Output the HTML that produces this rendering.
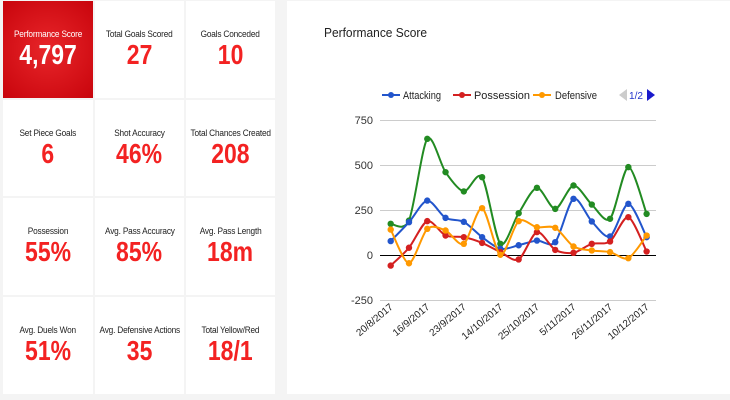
<!DOCTYPE html>
<html><head><meta charset="utf-8"><style>
body{margin:0;width:730px;height:400px;background:#f4f4f4;position:relative;overflow:hidden;font-family:"Liberation Sans Narrow","Liberation Sans",sans-serif}
.c{position:absolute;background:#fff;display:flex;flex-direction:column;align-items:center;justify-content:center;text-align:center}
.l{font-size:9px;color:#222;letter-spacing:-0.2px;transform:scaleX(0.92);white-space:nowrap}
.v{font-size:28px;font-weight:bold;color:#f32222;margin-top:1px;line-height:30px;transform:scaleX(0.82)}
.red{background:radial-gradient(circle at 50% 50%,#e8262a,#c8040c)}
.red .l,.red .v{color:#fff}
#p{position:absolute;left:287px;top:1px;width:443px;height:393px;background:#fff}
</style></head><body>
<div class="c red" style="left:3px;top:1px;width:90px;height:97px"><div class="l">Performance Score</div><div class="v">4,797</div></div>
<div class="c" style="left:95px;top:1px;width:89px;height:97px"><div class="l">Total Goals Scored</div><div class="v">27</div></div>
<div class="c" style="left:186px;top:1px;width:89px;height:97px"><div class="l">Goals Conceded</div><div class="v">10</div></div>
<div class="c" style="left:3px;top:100px;width:90px;height:96px"><div class="l">Set Piece Goals</div><div class="v">6</div></div>
<div class="c" style="left:95px;top:100px;width:89px;height:96px"><div class="l">Shot Accuracy</div><div class="v">46%</div></div>
<div class="c" style="left:186px;top:100px;width:89px;height:96px"><div class="l">Total Chances Created</div><div class="v">208</div></div>
<div class="c" style="left:3px;top:198px;width:90px;height:97px"><div class="l">Possession</div><div class="v">55%</div></div>
<div class="c" style="left:95px;top:198px;width:89px;height:97px"><div class="l">Avg. Pass Accuracy</div><div class="v">85%</div></div>
<div class="c" style="left:186px;top:198px;width:89px;height:97px"><div class="l">Avg. Pass Length</div><div class="v">18m</div></div>
<div class="c" style="left:3px;top:297px;width:90px;height:97px"><div class="l">Avg. Duels Won</div><div class="v">51%</div></div>
<div class="c" style="left:95px;top:297px;width:89px;height:97px"><div class="l">Avg. Defensive Actions</div><div class="v">35</div></div>
<div class="c" style="left:186px;top:297px;width:89px;height:97px"><div class="l">Total Yellow/Red</div><div class="v">18/1</div></div>
<div id="p"></div>
<svg id="s" width="730" height="400" style="position:absolute;left:0;top:0" font-family="Liberation Sans, sans-serif">
<text x="324" y="37" font-size="13" fill="#222" textLength="103" lengthAdjust="spacingAndGlyphs">Performance Score</text>
<g stroke="#ccc" stroke-width="1">
<line x1="380" x2="656" y1="120.5" y2="120.5"/><line x1="380" x2="656" y1="165.5" y2="165.5"/><line x1="380" x2="656" y1="210.5" y2="210.5"/><line x1="380" x2="656" y1="300.5" y2="300.5"/>
</g>
<line x1="380" x2="656" y1="255.5" y2="255.5" stroke="#000"/>
<g font-size="11" fill="#333" text-anchor="end">
<text x="373" y="124">750</text><text x="373" y="169">500</text><text x="373" y="214">250</text><text x="373" y="259">0</text><text x="373" y="304">-250</text>
</g>
<g font-size="11" fill="#222">
<line x1="382" x2="400" y1="95" y2="95" stroke="#2255cc" stroke-width="2"/><circle cx="391" cy="95" r="3" fill="#2255cc"/><text x="403" y="99" textLength="38" lengthAdjust="spacingAndGlyphs">Attacking</text>
<line x1="453" x2="471" y1="95" y2="95" stroke="#d42020" stroke-width="2"/><circle cx="462" cy="95" r="3" fill="#d42020"/><text x="474" y="99" textLength="56" lengthAdjust="spacingAndGlyphs">Possession</text>
<line x1="533" x2="551" y1="95" y2="95" stroke="#ff9900" stroke-width="2"/><circle cx="542" cy="95" r="3" fill="#ff9900"/><text x="555" y="99" textLength="42" lengthAdjust="spacingAndGlyphs">Defensive</text>
<polygon points="619,95 627,89 627,101" fill="#ccc"/><text x="629" y="99" fill="#2233cc" font-size="10" textLength="14" lengthAdjust="spacingAndGlyphs">1/2</text><polygon points="647,89 655,95 647,101" fill="#1a1acc"/>
</g>
<g id="lines"></g>
<g font-size="10" fill="#222" id="xl"></g>
</svg>
<script>
var data=[
["#228b22",[176,194,648,463,356,435,65,235,376,259,389,283,204,491,231]],
["#2255cc",[80,185,305,209,187,102,37,57,83,74,315,189,106,287,102]],
["#d42020",[-56,43,191,111,102,70,19,-22,130,31,15,65,78,213,22]],
["#ff9900",[144,-43,148,139,65,263,4,191,157,154,50,28,19,-15,111]]];
var g=document.getElementById('lines'),h='';
function X(i){return 390.7+i*18.28}function Y(v){return 255.5-v*0.18}
data.forEach(function(d){var p=d[1].map(function(v,i){return[X(i),Y(v)]});var s='M'+p[0];
for(var i=0;i<p.length-1;i++){var a=p[i-1]||p[i],b=p[i],c=p[i+1],e=p[i+2]||c;
var k=0.14;var c1=[b[0]+(c[0]-a[0])*k,b[1]+(c[1]-a[1])*k];var c2=[c[0]-(e[0]-b[0])*k,c[1]-(e[1]-b[1])*k];
s+=' C'+c1+' '+c2+' '+c;}
h+='<path d="'+s+'" fill="none" stroke="'+d[0]+'" stroke-width="2"/>';
p.forEach(function(q){h+='<circle cx="'+q[0]+'" cy="'+q[1]+'" r="3.2" fill="'+d[0]+'"/>'});});
g.innerHTML=h;
var labs=["20/8/2017","16/9/2017","23/9/2017","14/10/2017","25/10/2017","5/11/2017","26/11/2017","10/12/2017"],xh='';
labs.forEach(function(l,k){var x=X(k*2)+3,y=308;xh+='<text x="'+x+'" y="'+y+'" text-anchor="end" transform="rotate(-40 '+x+' '+y+')">'+l+'</text>'});
document.getElementById('xl').innerHTML=xh;
</script>
</body></html>
